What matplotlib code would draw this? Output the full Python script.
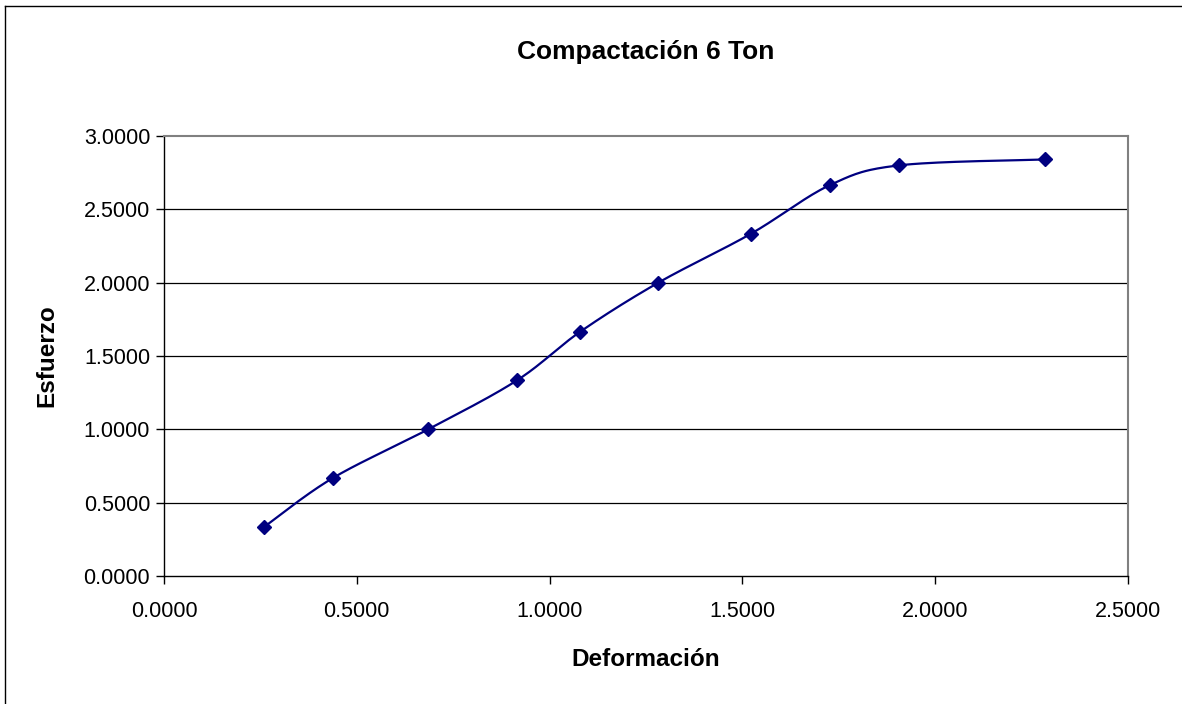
import numpy as np
import matplotlib
matplotlib.use("Agg")
import matplotlib.pyplot as plt
from matplotlib.lines import Line2D

# Strain (deformación) vs stress (esfuerzo) readings
deformacion = [0.259, 0.437, 0.685, 0.915, 1.080, 1.282, 1.522, 1.728, 1.907, 2.285]
esfuerzo = [0.3333, 0.6667, 1.0000, 1.3333, 1.6667, 2.0000, 2.3333, 2.6667, 2.8000, 2.8400]

x_ticks = [0.0, 0.5, 1.0, 1.5, 2.0, 2.5]
y_ticks = [0.0, 0.5, 1.0, 1.5, 2.0, 2.5, 3.0]

titulo = "Compactación 6 Ton"
etiqueta_x = "Deformación"
etiqueta_y = "Esfuerzo"

NAVY = "#000080"
FONT = "Liberation Sans"

fig = plt.figure(figsize=(11.82, 7.04), dpi=100)
fig.patch.set_facecolor("white")

# outer chart border (left and top edges fall inside the canvas)
fig.add_artist(Line2D([4.5 / 1182, 4.5 / 1182], [0, 1 - 6 / 704], transform=fig.transFigure,
                      color="black", linewidth=1.0))
fig.add_artist(Line2D([4.5 / 1182, 1], [1 - 6 / 704, 1 - 6 / 704], transform=fig.transFigure,
                      color="black", linewidth=1.0))

ax = fig.add_axes([164 / 1182, 1 - 576 / 704, (1128 - 164) / 1182, (576 - 136) / 704])
ax.set_xlim(0, 2.5)
ax.set_ylim(0, 3.0)

# horizontal gridlines
for yv in y_ticks[1:-1]:
    ax.axhline(yv, color="black", linewidth=0.9, zorder=1)

for side in ["top", "right"]:
    ax.spines[side].set_color("#808080")
    ax.spines[side].set_linewidth(1.5)
for side in ["left", "bottom"]:
    ax.spines[side].set_color("black")
    ax.spines[side].set_linewidth(1.0)

ax.set_xticks(x_ticks)
ax.set_yticks(y_ticks)
ax.set_xticklabels([f"{v:.4f}" for v in x_ticks], fontsize=15.5, family=FONT)
ax.set_yticklabels([f"{v:.4f}" for v in y_ticks], fontsize=15.5, family=FONT)
ax.tick_params(axis="both", direction="out", length=6, width=1.0, color="black")
ax.tick_params(axis="x", pad=12)
ax.tick_params(axis="y", pad=4)

# smoothed connecting line (Bezier segments through the data, in display space)
fig.canvas.draw()
pts = ax.transData.transform(np.column_stack([deformacion, esfuerzo]))
n = len(pts)
curve = []
t = np.linspace(0, 1, 30)
for i in range(n - 1):
    p0 = pts[i - 1] if i > 0 else pts[i]
    p1 = pts[i]
    p2 = pts[i + 1]
    p3 = pts[i + 2] if i + 2 < n else pts[i + 1]
    c1 = p1 + (p2 - p0) / 6.0
    c2 = p2 - (p3 - p1) / 6.0
    seg = ((1 - t) ** 3)[:, None] * p1 + (3 * (1 - t) ** 2 * t)[:, None] * c1 \
        + (3 * (1 - t) * t ** 2)[:, None] * c2 + (t ** 3)[:, None] * p2
    curve.append(seg if i == 0 else seg[1:])
curve = ax.transData.inverted().transform(np.vstack(curve))
ax.plot(curve[:, 0], curve[:, 1], color=NAVY, linewidth=1.6, zorder=3)
ax.plot(deformacion, esfuerzo, linestyle="none", marker="D", markersize=7.2,
        color=NAVY, markeredgecolor=NAVY, zorder=4, clip_on=False)

fig.text(0.5 * (164 + 1128) / 1182 + 0.0, 1 - 52 / 704, titulo, ha="center", va="center",
         fontsize=19, fontweight="bold", family=FONT)
fig.text(646 / 1182, 1 - 660 / 704, etiqueta_x, ha="center", va="center",
         fontsize=17.5, fontweight="bold", family=FONT)
fig.text(47 / 1182, 1 - 356 / 704, etiqueta_y, ha="center", va="center", rotation=90,
         fontsize=17.5, fontweight="bold", family=FONT)

fig.savefig("out.png", dpi=100, facecolor="white")
